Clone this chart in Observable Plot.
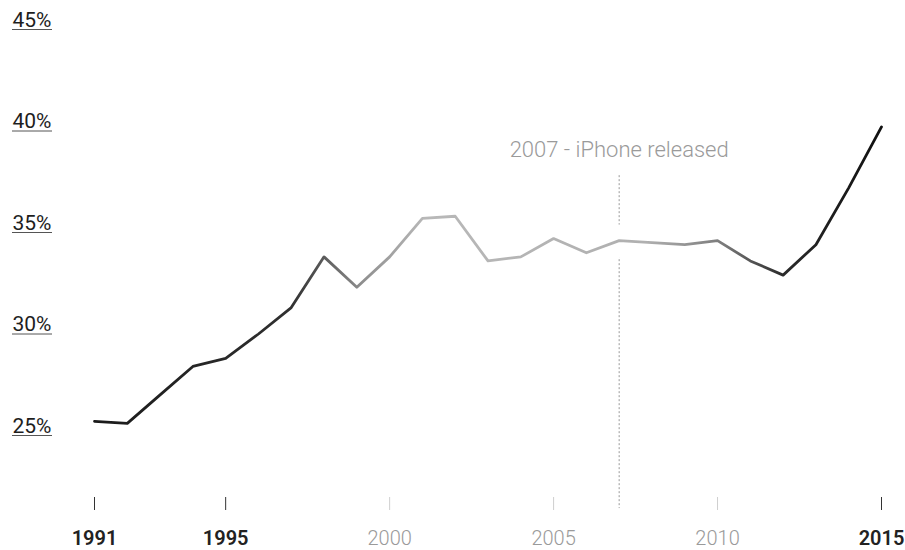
<!DOCTYPE html>
<html>
<head>
<meta charset="utf-8">
<script src="https://cdn.jsdelivr.net/npm/d3@7"></script>
<script src="https://cdn.jsdelivr.net/npm/@observablehq/plot@0.6"></script>
<style>
  html, body { margin: 0; padding: 0; background: #fff; }
</style>
</head>
<body>
<div id="chart"></div>
<script>
// ---- data ----
const years = [1991, 1992, 1993, 1994, 1995, 1996, 1997, 1998, 1999, 2000,
               2001, 2002, 2003, 2004, 2005, 2006, 2007, 2008, 2009, 2010,
               2011, 2012, 2013, 2014, 2015];
const shares = [25.7, 25.6, 27.0, 28.4, 28.8, 30.0, 31.3, 33.8, 32.3, 33.8,
                35.7, 35.8, 33.6, 33.8, 34.7, 34.0, 34.6, 34.5, 34.4, 34.6,
                33.6, 32.9, 34.4, 37.2, 40.2];
const yTicks = [25, 30, 35, 40, 45];
const boldYearTicks = [1991, 1995, 2015];
const lightYearTicks = [2000, 2005, 2010];
const eventYears = [2007];
const eventLabels = ["2007 - iPhone released"];
const eventTop = [37.8];
const eventBottom = [21.4];

const table = years.map((year, i) => ({year, share: shares[i]}));
const events = eventYears.map((year, i) => ({year, label: eventLabels[i], top: eventTop[i], bottom: eventBottom[i]}));

// gradient (style) along the line, dark ends / pale middle
const gradientStops = [
  [0.00, "#1a1a1a"], [0.25, "#303030"], [0.34, "#8f8f8f"], [0.42, "#b8b8b8"],
  [0.70, "#b0b0b0"], [0.80, "#7a7a7a"], [0.875, "#2a2a2a"], [1.00, "#111"]
];

const gradientDefs = () => {
  const defs = d3.create("svg:defs");
  const g = defs.append("linearGradient").attr("id", "lineGrad")
    .attr("x1", "0").attr("x2", "1").attr("y1", "0").attr("y2", "0");
  gradientStops.forEach(([o, c]) => g.append("stop").attr("offset", o).attr("stop-color", c));
  return defs.node();
};

const chart = Plot.plot({
  width: 905,
  height: 550,
  marginLeft: 94,
  marginRight: 24,
  marginTop: 29,
  marginBottom: 115,
  style: {fontFamily: "Roboto, 'Liberation Sans', sans-serif", background: "#fff"},
  x: {domain: [1991, 2015], label: null},
  y: {domain: [25, 45], label: null},
  marks: [
    gradientDefs,
    // y labels and their underlines
    Plot.axisY(yTicks, {anchor: "left", tickSize: 0, tickPadding: 3, dx: -79, textAnchor: "start",
      lineAnchor: "bottom", dy: -3, fontSize: 21, fill: "#1e1e1e", tickFormat: d => d + "%"}),
    Plot.axisY(yTicks, {anchor: "left", tickSize: 40, dx: -42, stroke: "#555", strokeWidth: 1, tickFormat: () => ""}),
    // x ticks
    Plot.axisX(boldYearTicks, {anchor: "bottom", tickSize: 13, dy: 62, stroke: "#333", tickFormat: () => ""}),
    Plot.axisX(lightYearTicks, {anchor: "bottom", tickSize: 13, dy: 62, stroke: "#cfcfcf", tickFormat: () => ""}),
    // x labels
    Plot.axisX(boldYearTicks, {anchor: "bottom", tickSize: 0, tickPadding: 3, dy: 92, fontSize: 20,
      fontWeight: 600, fill: "#222", tickFormat: d => String(d)}),
    Plot.axisX(lightYearTicks, {anchor: "bottom", tickSize: 0, tickPadding: 3, dy: 92, fontSize: 20,
      fontWeight: 300, fill: "#9a9a9a", tickFormat: d => String(d)}),
    // event rule + label
    Plot.ruleX(events, {x: "year", y1: "top", y2: "bottom", stroke: "#999", strokeWidth: 1, strokeDasharray: "2,2"}),
    Plot.text(events, {x: "year", y: "top", text: "label", lineAnchor: "bottom", dy: -19,
      fontSize: 22, fontWeight: 300, fill: "#9a9a9a", textAnchor: "middle"}),
    // halo then the line
    Plot.line(table, {x: "year", y: "share", stroke: "#fff", strokeWidth: 32}),
    Plot.line(table, {x: "year", y: "share", stroke: "url(#lineGrad)", strokeWidth: 2.8,
      strokeLinejoin: "round", strokeLinecap: "round"})
  ]
});

document.getElementById("chart").appendChild(chart);
</script>
</body>
</html>
